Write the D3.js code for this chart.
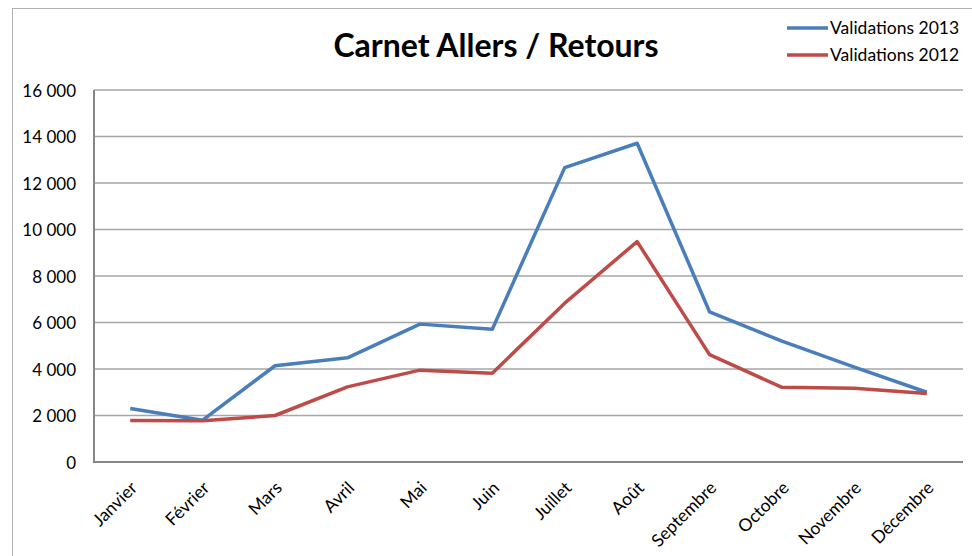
<!DOCTYPE html>
<html>
<head>
<meta charset="utf-8">
<script src="https://cdn.jsdelivr.net/npm/d3@7"></script>
<style>
  html, body { margin: 0; padding: 0; background: #fff; }
  svg { display: block; }
  text { font-family: Lato, "Open Sans", sans-serif; fill: #000; }
</style>
</head>
<body>
<svg id="chart" width="972" height="556"></svg>
<script>
const months = ["Janvier","Février","Mars","Avril","Mai","Juin","Juillet","Août","Septembre","Octobre","Novembre","Décembre"];
const values2013 = [2300, 1800, 4140, 4480, 5930, 5710, 12660, 13710, 6460, 5200, 4080, 3000];
const values2012 = [1790, 1770, 2000, 3230, 3950, 3820, 6830, 9480, 4620, 3210, 3170, 2950];
const seriesNames = ["Validations 2013", "Validations 2012"];
const seriesColors = ["#4a7ebb", "#be4b48"];
const yTicks = [0, 2000, 4000, 6000, 8000, 10000, 12000, 14000, 16000];
const title = "Carnet Allers / Retours";

const svg = d3.select("#chart");
const W = 972, H = 556;
const plot = { left: 94, right: 963, top: 90, bottom: 462 };

// outer chart border
svg.append("rect").attr("x", 12.5).attr("y", 8.5).attr("width", W).attr("height", H)
  .attr("fill", "none").attr("stroke", "#b3b3b3").attr("stroke-width", 1);

const x = d3.scaleBand().domain(months).range([plot.left, plot.right]);
const y = d3.scaleLinear().domain([0, 16000]).range([plot.bottom, plot.top]);

// gridlines
svg.append("g").selectAll("line").data(yTicks.filter(d => d > 0)).join("line")
  .attr("x1", plot.left).attr("x2", plot.right)
  .attr("y1", d => y(d)).attr("y2", d => y(d))
  .attr("stroke", "#a6a6a6").attr("stroke-width", 1.3);

// y axis
const fmt = d => d3.format(",")(d).replace(/,/g, "\u00a0");
const yAxis = d3.axisLeft(y).tickValues(yTicks).tickFormat(fmt).tickSize(0).tickPadding(18);
const gy = svg.append("g").attr("transform", `translate(${plot.left},0)`).call(yAxis);
gy.select(".domain").remove();
gy.selectAll("text").attr("font-size", 17).style("font-family", "Lato, sans-serif").attr("dy", "0.36em");

// axis lines
svg.append("line").attr("x1", plot.left).attr("x2", plot.left).attr("y1", plot.top).attr("y2", plot.bottom)
  .attr("stroke", "#868686").attr("stroke-width", 2);
svg.append("line").attr("x1", plot.left - 1).attr("x2", plot.right).attr("y1", plot.bottom).attr("y2", plot.bottom)
  .attr("stroke", "#868686").attr("stroke-width", 2);

// x labels
const xAxis = d3.axisBottom(x).tickSize(0).tickPadding(0);
const gx = svg.append("g").attr("transform", `translate(0,${plot.bottom})`).call(xAxis);
gx.select(".domain").remove();
gx.selectAll("text")
  .attr("font-size", 17.5).style("font-family", "Lato, sans-serif")
  .attr("text-anchor", "end")
  .attr("dy", null).attr("y", 0)
  .attr("transform", "translate(8,27) rotate(-45)");

// lines
const line = d3.line().x((d, i) => x(months[i]) + x.bandwidth() / 2).y(d => y(d));
[values2013, values2012].forEach((vals, k) => {
  svg.append("path").datum(vals).attr("d", line)
    .attr("fill", "none").attr("stroke", seriesColors[k]).attr("stroke-width", 3.5)
    .attr("stroke-linejoin", "round");
});

// title
svg.append("text").attr("x", 496).attr("y", 57).attr("text-anchor", "middle")
  .attr("font-size", 32).attr("font-weight", "bold").text(title);

// legend
const lg = svg.append("g");
seriesNames.forEach((name, k) => {
  const ly = 28 + k * 27;
  lg.append("line").attr("x1", 787).attr("x2", 828).attr("y1", ly).attr("y2", ly)
    .attr("stroke", seriesColors[k]).attr("stroke-width", 3.5);
  lg.append("text").attr("x", 830).attr("y", ly).attr("dy", "0.36em")
    .attr("font-size", 17.5).text(name);
});
</script>
</body>
</html>
